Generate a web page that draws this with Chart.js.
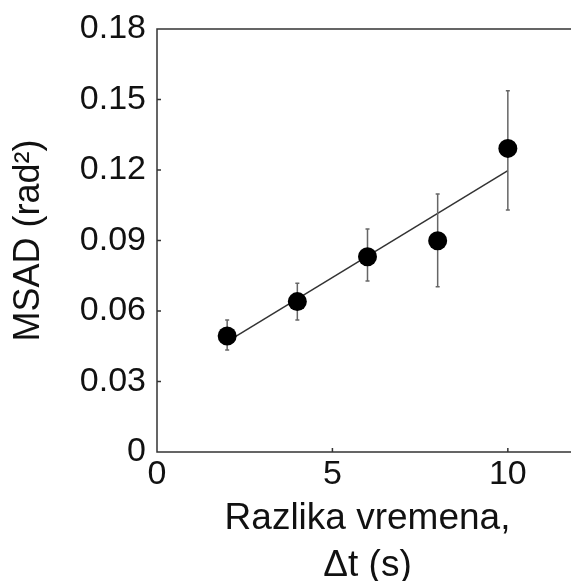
<!DOCTYPE html>
<html>
<head>
<meta charset="utf-8">
<script src="https://cdn.jsdelivr.net/npm/chart.js@4/dist/chart.umd.min.js"></script>
<style>
  html, body { margin: 0; padding: 0; overflow: hidden; background: #fff; }
  #wrap { width: 571px; height: 581px; overflow: hidden; }
</style>
</head>
<body>
<div id="wrap"><canvas id="msad" width="600" height="600"></canvas></div>
<script>
// measured MSAD at each time lag
const lagSeconds = [2, 4, 6, 8, 10];
const msad = [0.0494, 0.0640, 0.0831, 0.0899, 0.1292];
const errLow = [0.0434, 0.0562, 0.0728, 0.0703, 0.1030];
const errHigh = [0.0562, 0.0718, 0.0949, 0.1098, 0.1537];

// linear fit end points
const fitX = [2, 10];
const fitY = [0.047, 0.1197];

const xTicks = [0, 5, 10];
const yTicks = [0, 0.03, 0.06, 0.09, 0.12, 0.15, 0.18];

const FONT = '"Liberation Sans", Arial, sans-serif';
const INK = '#111';

// error bars behind the markers
const errorBars = {
    id: 'errorBars',
    beforeDatasetDraw(chart, args) {
        if (args.index !== 0) return;
        const ctx = chart.ctx, xs = chart.scales.x, ys = chart.scales.y;
        ctx.save();
        ctx.strokeStyle = '#666';
        ctx.lineWidth = 1.5;
        lagSeconds.forEach((t, i) => {
            const px = xs.getPixelForValue(t);
            const top = ys.getPixelForValue(errHigh[i]);
            const bot = ys.getPixelForValue(errLow[i]);
            ctx.beginPath();
            ctx.moveTo(px, top); ctx.lineTo(px, bot);
            ctx.moveTo(px - 2, top); ctx.lineTo(px + 2, top);
            ctx.moveTo(px - 2, bot); ctx.lineTo(px + 2, bot);
            ctx.stroke();
        });
        ctx.restore();
    }
};

// box frame and inward tick marks
const frame = {
    id: 'frame',
    afterDraw(chart) {
        const ctx = chart.ctx, a = chart.chartArea;
        const xs = chart.scales.x, ys = chart.scales.y;
        ctx.save();
        ctx.strokeStyle = '#333';
        ctx.lineWidth = 1.5;
        ctx.strokeRect(a.left, a.top, a.right - a.left, a.bottom - a.top);
        ctx.beginPath();
        yTicks.slice(1, -1).forEach(v => {
            const py = ys.getPixelForValue(v);
            ctx.moveTo(a.left, py); ctx.lineTo(a.left + 4, py);
        });
        xTicks.slice(1).forEach(v => {
            const px = xs.getPixelForValue(v);
            ctx.moveTo(px, a.bottom); ctx.lineTo(px, a.bottom - 4);
        });
        ctx.stroke();
        ctx.restore();
    }
};

new Chart(document.getElementById('msad'), {
    type: 'scatter',
    data: {
        datasets: [{
            data: lagSeconds.map((t, i) => ({ x: t, y: msad[i] })),
            backgroundColor: '#000',
            borderWidth: 0,
            pointRadius: 9.5,
            pointHoverRadius: 9.5,
            order: 0
        }, {
            type: 'line',
            data: fitX.map((t, i) => ({ x: t, y: fitY[i] })),
            borderColor: '#333',
            borderWidth: 1.5,
            pointRadius: 0,
            fill: false,
            order: 1
        }]
    },
    options: {
        responsive: false,
        animation: false,
        layout: { padding: { top: 29, right: 22, left: 0, bottom: 0 } },
        plugins: {
            legend: { display: false },
            tooltip: { enabled: false }
        },
        scales: {
            x: {
                type: 'linear',
                min: 0,
                max: 12,
                afterBuildTicks: s => { s.ticks = xTicks.map(v => ({ value: v })); },
                afterFit: s => { s.height = 148; },
                grid: { display: false },
                border: { display: false },
                ticks: {
                    color: INK,
                    padding: -6,
                    maxRotation: 0,
                    font: { family: FONT, size: 34 }
                },
                title: {
                    display: true,
                    text: ['Razlika vremena,', '\u0394t (s)'],
                    color: INK,
                    font: { family: FONT, size: 37, lineHeight: 1.27 },
                    padding: { top: 0, bottom: 11 }
                }
            },
            y: {
                min: 0,
                max: 0.18,
                afterBuildTicks: s => { s.ticks = yTicks.map(v => ({ value: v })); },
                afterFit: s => { s.width = 157; },
                grid: { display: false },
                border: { display: false },
                ticks: {
                    color: INK,
                    padding: 3,
                    font: { family: FONT, size: 34 },
                    callback: v => v === 0 ? '0' : v.toFixed(2)
                },
                title: {
                    display: true,
                    text: 'MSAD (rad\u00B2)',
                    color: INK,
                    font: { family: FONT, size: 36 },
                    padding: { top: 7, bottom: 0 }
                }
            }
        }
    },
    plugins: [errorBars, frame]
});
</script>
</body>
</html>
